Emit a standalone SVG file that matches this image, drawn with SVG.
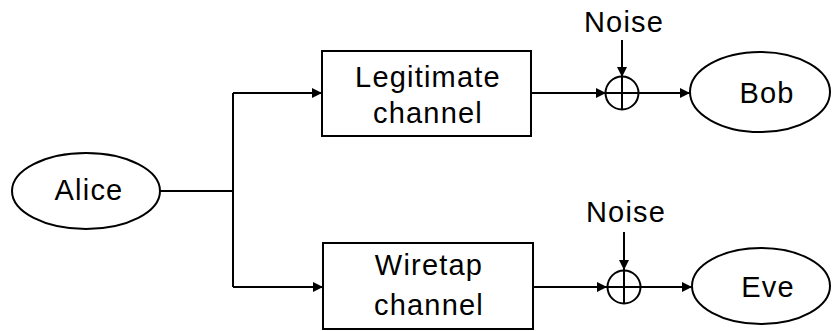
<svg xmlns="http://www.w3.org/2000/svg" width="832" height="331" viewBox="0 0 832 331">
<style>
.s{fill:none;stroke:#000;stroke-width:2}
.n{fill:#fff;stroke:#000;stroke-width:2}
text{font-family:"Liberation Sans",Arial,sans-serif;font-size:29px;fill:#000;text-anchor:middle;letter-spacing:1.2px}
</style>
<defs>
<marker id="a" viewBox="0 0 10 10" refX="10" refY="5" markerWidth="10" markerHeight="10" markerUnits="userSpaceOnUse" orient="auto">
<path d="M0,0 L10,5 L0,10 z" fill="#000"/>
</marker>
</defs>
<g id="connectors">
<path class="s" d="M160,191 H233"/>
<path class="s" d="M233,93 V287"/>
<path class="s" d="M233,93 H322" marker-end="url(#a)"/>
<path class="s" d="M233,287 H323" marker-end="url(#a)"/>
<path class="s" d="M531,93 H606" marker-end="url(#a)"/>
<path class="s" d="M533,287 H607" marker-end="url(#a)"/>
<path class="s" d="M622,40 V77" marker-end="url(#a)"/>
<path class="s" d="M624,232 V270" marker-end="url(#a)"/>
<path class="s" d="M638,93 H690" marker-end="url(#a)"/>
<path class="s" d="M641,287 H692" marker-end="url(#a)"/>
</g>
<g id="alice">
<ellipse class="n" cx="86" cy="191" rx="74" ry="38"/>
<text x="89" y="200">Alice</text>
</g>
<g id="legit">
<rect class="n" x="322" y="51" width="209" height="85"/>
<text x="428" y="87">Legitimate</text>
<text x="428" y="123">channel</text>
</g>
<g id="wiretap">
<rect class="n" x="323" y="243" width="210" height="86"/>
<text x="429" y="275">Wiretap</text>
<text x="429" y="315">channel</text>
</g>
<g id="sum1">
<circle class="n" cx="622" cy="93" r="16.5"/>
<path class="s" d="M605.5,93 H638.5 M622,76.5 V109.5"/>
<text x="624" y="32">Noise</text>
</g>
<g id="sum2">
<circle class="n" cx="624" cy="287" r="16.5"/>
<path class="s" d="M607.5,287 H640.5 M624,270.5 V303.5"/>
<text x="626" y="222">Noise</text>
</g>
<g id="bob">
<ellipse class="n" cx="760" cy="92" rx="70" ry="40"/>
<text x="767" y="103">Bob</text>
</g>
<g id="eve">
<ellipse class="n" cx="761" cy="286" rx="69" ry="38"/>
<text x="768" y="297">Eve</text>
</g>
</svg>
